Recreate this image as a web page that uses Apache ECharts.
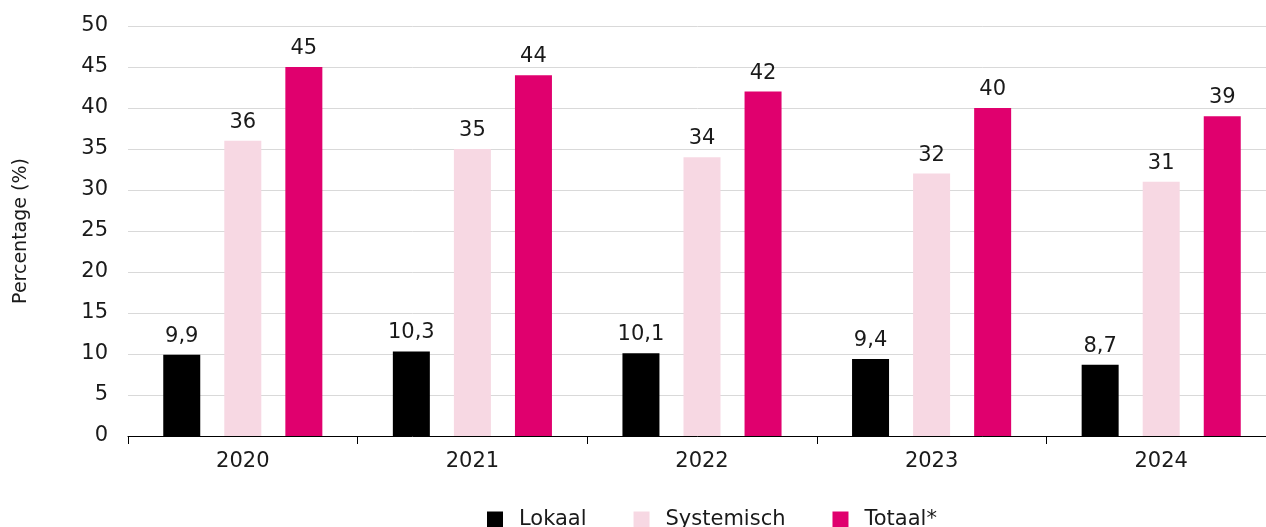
<!DOCTYPE html>
<html>
<head>
<meta charset="utf-8">
<script src="https://cdn.jsdelivr.net/npm/echarts@6/dist/echarts.min.js"></script>
<style>
  html, body { margin: 0; padding: 0; background: #fff; }
  #chart { width: 1266px; height: 527px; }
</style>
</head>
<body>
<div id="chart"></div>
<script>
const years = ["2020", "2021", "2022", "2023", "2024"];
const lokaal = [9.9, 10.3, 10.1, 9.4, 8.7];
const systemisch = [36, 35, 34, 32, 31];
const totaal = [45, 44, 42, 40, 39];

const font = "'DejaVu Sans', sans-serif";
const textColor = "#1a1a1a";

function barLabel() {
  return {
    show: true,
    position: "top",
    distance: 8,
    fontFamily: font,
    fontSize: 21,
    color: textColor,
    formatter: p => String(p.value).replace(".", ",")
  };
}

const chart = echarts.init(document.getElementById("chart"));
chart.setOption({
  animation: false,
  textStyle: { fontFamily: font },
  grid: {
    left: 128, top: 26, width: 1148, bottom: 91,
    containLabel: false,
    outerBoundsMode: "none"
  },
  legend: {
    bottom: -8,
    left: 482,
    itemWidth: 16,
    itemHeight: 16,
    itemGap: 47,
    icon: "rect",
    textStyle: { fontFamily: font, fontSize: 21, color: textColor, padding: [0, 0, 0, 11] },
    data: ["Lokaal", "Systemisch", "Totaal*"]
  },
  xAxis: {
    type: "category",
    data: years,
    axisLine: { lineStyle: { color: "#000", width: 1 } },
    axisTick: { show: true, length: 8, lineStyle: { color: "#000" } },
    axisLabel: { fontFamily: font, fontSize: 21, color: textColor, margin: 15 }
  },
  yAxis: {
    type: "value",
    min: 0,
    max: 50,
    interval: 5,
    name: "Percentage (%)",
    nameLocation: "middle",
    nameGap: 97,
    nameRotate: 90,
    nameTextStyle: { fontFamily: font, fontSize: 19, color: textColor },
    axisLine: { show: false },
    axisTick: { show: false },
    axisLabel: { fontFamily: font, fontSize: 21, color: textColor, margin: 20 },
    splitLine: { lineStyle: { color: "#d9d9d9", width: 1 } }
  },
  series: [
    {
      name: "Lokaal", type: "bar", data: lokaal,
      barWidth: 37, barGap: "65%", barCategoryGap: "31%",
      itemStyle: { color: "#000000" },
      label: barLabel()
    },
    {
      name: "Systemisch", type: "bar", data: systemisch,
      barWidth: 37,
      itemStyle: { color: "#f7d8e3" },
      label: barLabel()
    },
    {
      name: "Totaal*", type: "bar", data: totaal,
      barWidth: 37,
      itemStyle: { color: "#e0006e" },
      label: barLabel()
    }
  ]
});
</script>
</body>
</html>
